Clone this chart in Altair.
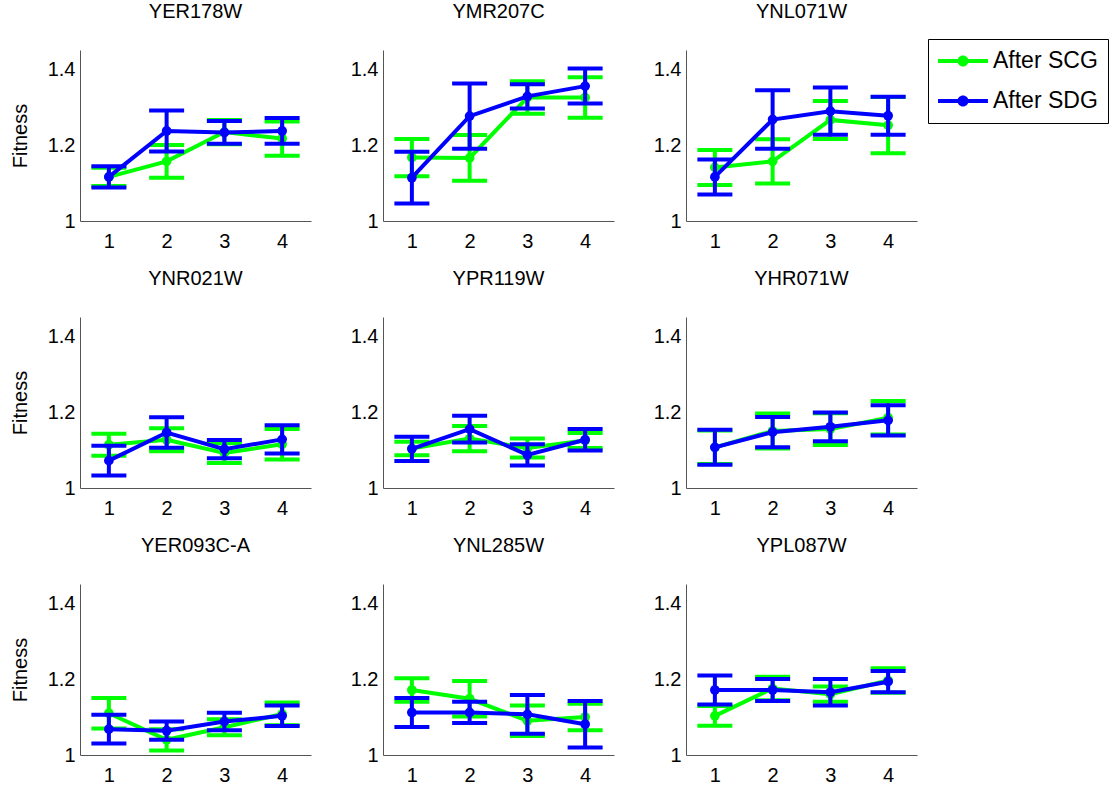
import altair as alt
import pandas as pd

genes = ["YER178W", "YMR207C", "YNL071W",
         "YNR021W", "YPR119W", "YHR071W",
         "YER093C-A", "YNL285W", "YPL087W"]
steps = [1, 2, 3, 4]
series = ["After SCG", "After SDG"]

scg_mean = [
    [1.116, 1.157, 1.234, 1.217],
    [1.167, 1.166, 1.325, 1.325],
    [1.141, 1.157, 1.266, 1.252],
    [1.114, 1.127, 1.092, 1.115],
    [1.104, 1.130, 1.105, 1.125],
    [1.107, 1.150, 1.155, 1.185],
    [1.110, 1.040, 1.073, 1.108],
    [1.171, 1.148, 1.090, 1.100],
    [1.103, 1.175, 1.160, 1.196],
]
scg_err = [
    [0.024, 0.043, 0.032, 0.045],
    [0.049, 0.060, 0.043, 0.053],
    [0.046, 0.058, 0.050, 0.074],
    [0.029, 0.030, 0.026, 0.040],
    [0.018, 0.033, 0.025, 0.020],
    [0.044, 0.046, 0.042, 0.044],
    [0.040, 0.028, 0.021, 0.030],
    [0.031, 0.047, 0.040, 0.035],
    [0.026, 0.031, 0.020, 0.032],
]
sdg_mean = [
    [1.116, 1.237, 1.233, 1.237],
    [1.114, 1.276, 1.328, 1.355],
    [1.116, 1.267, 1.289, 1.277],
    [1.072, 1.146, 1.102, 1.128],
    [1.103, 1.155, 1.087, 1.127],
    [1.107, 1.147, 1.161, 1.178],
    [1.068, 1.064, 1.088, 1.103],
    [1.112, 1.112, 1.107, 1.081],
    [1.171, 1.171, 1.165, 1.193],
]
sdg_err = [
    [0.028, 0.054, 0.030, 0.034],
    [0.068, 0.086, 0.032, 0.046],
    [0.046, 0.077, 0.062, 0.050],
    [0.039, 0.040, 0.024, 0.037],
    [0.032, 0.035, 0.028, 0.028],
    [0.046, 0.040, 0.038, 0.040],
    [0.038, 0.024, 0.023, 0.027],
    [0.038, 0.028, 0.051, 0.061],
    [0.038, 0.029, 0.035, 0.028],
]

GREEN = "#00ff00"
BLUE = "#0000ff"
FONT = "Liberation Sans"

rows = []
for gi, g in enumerate(genes):
    for s, means, errs in [(series[0], scg_mean, scg_err), (series[1], sdg_mean, sdg_err)]:
        for k, x in enumerate(steps):
            m = means[gi][k]
            e = errs[gi][k]
            rows.append({"gene": g, "cond": s, "x": x, "mean": m,
                         "lo": m - e, "hi": m + e})
df = pd.DataFrame(rows)

legend_path = ("M-2.08,-0.17L2.08,-0.17L2.08,0.17L-2.08,0.17Z "
               "M0.46,0A0.46,0.46 0 1,1 -0.46,0A0.46,0.46 0 1,1 0.46,0Z")


def panel(i, ytitle):
    d = df[df["gene"] == genes[i]]
    base = alt.Chart(d)
    xenc = alt.X("x:Q", scale=alt.Scale(domain=[0.5, 4.5], nice=False),
                 axis=alt.Axis(values=steps, format="d", title=None))
    yax = alt.Axis(values=[1, 1.2, 1.4], format=".1~f",
                   title=ytitle if ytitle else None)

    def Y(f):
        return alt.Y(f"{f}:Q", scale=alt.Scale(domain=[1, 1.45], nice=False, zero=False),
                     axis=yax)

    layers = []
    for s, col in [(series[0], GREEN), (series[1], BLUE)]:
        b = base.transform_filter(alt.datum.cond == s)
        layers.append(b.mark_line(color=col, strokeWidth=4).encode(x=xenc, y=Y("mean")))
        layers.append(b.mark_rule(color=col, strokeWidth=4).encode(x=xenc, y=Y("lo"), y2="hi:Q"))
        layers.append(b.mark_tick(color=col, orient="horizontal", size=35, thickness=4, opacity=1)
                      .encode(x=xenc, y=Y("lo")))
        layers.append(b.mark_tick(color=col, orient="horizontal", size=35, thickness=4, opacity=1)
                      .encode(x=xenc, y=Y("hi")))
        layers.append(b.mark_circle(size=95, opacity=1).encode(
            x=xenc, y=Y("mean"),
            color=alt.Color("cond:N",
                            scale=alt.Scale(domain=series, range=[GREEN, BLUE]),
                            legend=alt.Legend(title=None, orient="none",
                                              legendX=848, legendY=-11,
                                              symbolType=legend_path,
                                              symbolSize=576,
                                              symbolStrokeWidth=0,
                                              symbolOffset=13,
                                              labelOffset=18,
                                              rowPadding=16,
                                              padding=10,
                                              labelFontSize=23,
                                              labelFont=FONT,
                                              labelLimit=300,
                                              strokeColor="black",
                                              fillColor="white"))))
    return alt.layer(*layers).properties(
        width=231, height=171,
        title=alt.TitleParams(genes[i], fontSize=20, font=FONT,
                              fontWeight="normal", offset=28))


grid_rows = []
for r in range(3):
    grid_rows.append(alt.hconcat(*[panel(3 * r + c, "Fitness" if c == 0 else None)
                                   for c in range(3)], spacing=39))

chart = alt.vconcat(*grid_rows, spacing=18).properties(
    padding={"left": 10, "top": 2, "right": 0, "bottom": 0}
).configure_view(stroke=None).configure_axis(
    labelFont=FONT, labelFontSize=20, labelColor="black",
    titleFont=FONT, titleFontSize=20, titleFontWeight="normal", titleColor="black",
    domainColor="#555555", domainWidth=1, tickSize=0, grid=False,
).configure_axisY(labelPadding=5, titlePadding=17).configure_axisX(labelPadding=10)

chart.save("out.html", embed_options={"renderer": "svg", "actions": False})
